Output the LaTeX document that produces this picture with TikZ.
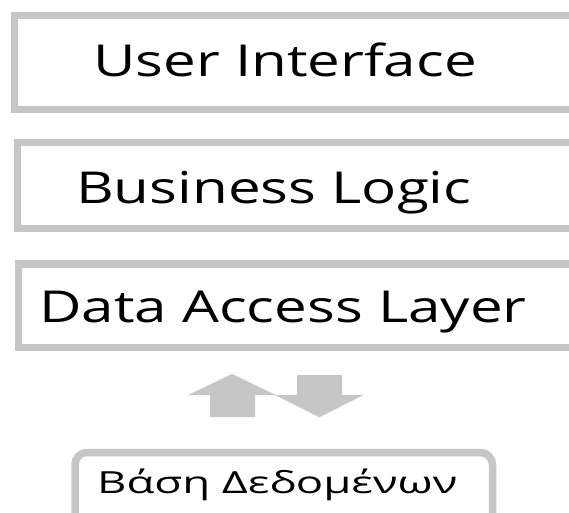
\documentclass[tikz,border=0pt]{standalone}
\usepackage{fontspec}
\setmainfont{Open Sans}
\newfontfamily\layerfont[FakeStretch=1.325]{Open Sans}
\newfontfamily\dbfont[FakeStretch=1.49]{Open Sans}
\begin{document}
\begin{tikzpicture}[x=1pt,y=-1pt,
  layerbox/.style={draw=boxgray,line width=7.5pt,fill=white},
  layertext/.style={anchor=base west,inner sep=0pt,font=\layerfont\fontsize{44}{50}\selectfont,text=black},
  dbtext/.style={anchor=base west,inner sep=0pt,font=\dbfont\fontsize{30.5}{36}\selectfont,text=black},
  blockarrow/.style={fill=boxgray,draw=none}]
\definecolor{boxgray}{HTML}{C6C6C6}
\useasboundingbox (0,0) rectangle (569,512);
\clip (0,0) rectangle (569,512);

% three stacked layers (right sides run off the page)
\draw[layerbox] (14.5,15.3) rectangle (580,109.5);
\draw[layerbox] (17.7,142.3) rectangle (580,228.4);
\draw[layerbox] (18.7,264.2) rectangle (580,347.4);

\node[layertext] (ui)  at (93,76.5)  {User Interface};
\node[layertext] (bl)  at (76,203)   {Business Logic};
\node[layertext] (dal) at (39,322)   {Data Access Layer};

% two-way exchange between data access layer and database
\fill[blockarrow] (210,417) -- (210,395) -- (188,395) -- (232,374)
  -- (276,395) -- (255,395) -- (255,417) -- cycle;
\fill[blockarrow] (297,375) -- (342,375) -- (342,395) -- (363.5,395)
  -- (319.3,417.3) -- (275,395) -- (297,395) -- cycle;

% database
\draw[layerbox,rounded corners=12pt] (75,452.5) rectangle (492.5,530);
\node[dbtext] (db) at (97,493.3) {Βάση Δεδομένων};
\end{tikzpicture}
\end{document}
